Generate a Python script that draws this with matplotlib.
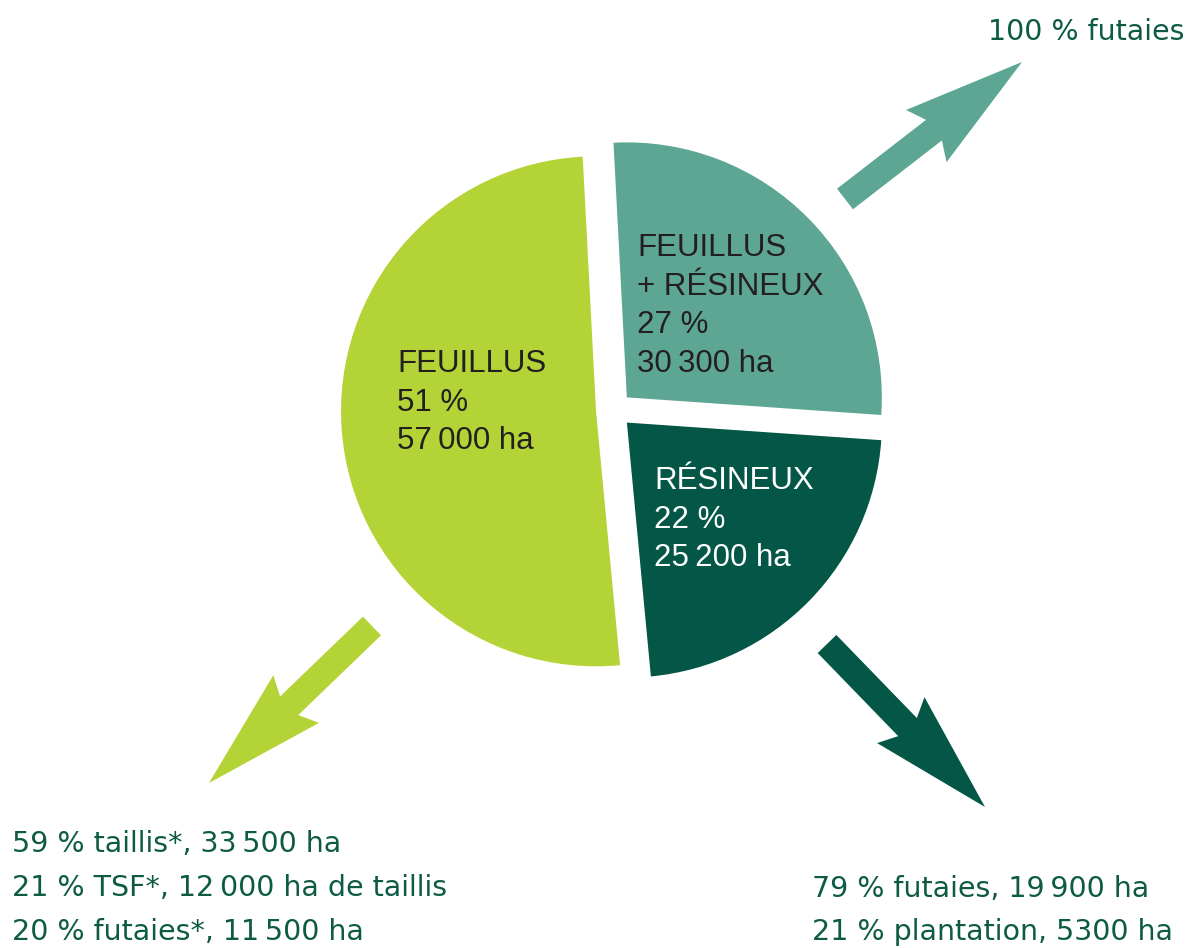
import matplotlib
matplotlib.use("Agg")
import matplotlib.pyplot as plt
from matplotlib.patches import FancyArrow

# ---------------- data ----------------
# pie order (clockwise from the top): mixed, conifers, broadleaves
slice_titles = [["FEUILLUS", "+ RÉSINEUX"], ["RÉSINEUX"], ["FEUILLUS"]]
percents = [27, 22, 51]
areas_ha = [30300, 25200, 57000]
slice_colors = ["#5ca693", "#045746", "#b4d336"]
slice_text_colors = ["#231f20", "#ffffff", "#231f20"]

mixte_detail = ["100 % futaies"]
resineux_detail = ["79 % futaies, 19\u2009900 ha", "21 % plantation, 5300 ha"]
feuillus_detail = ["59 % taillis*, 33\u2009500 ha",
                   "21 % TSF*, 12\u2009000 ha de taillis",
                   "20 % futaies*, 11\u2009500 ha"]

# ---------------- figure ----------------
W, H = 1194, 948
fig = plt.figure(figsize=(W / 100, H / 100), dpi=100)
ax = fig.add_axes([0, 0, 1, 1])


def Y(py):
    """pixel row (from top) -> data y"""
    return H - py


center = (614, Y(410))
radius = 255
gap = 18  # explode offset in data units (pixels)
ax.pie(areas_ha, colors=slice_colors, startangle=93, counterclock=False,
       explode=[gap, gap, gap], center=center, radius=radius,
       wedgeprops=dict(linewidth=0), frame=True)
ax.set_xlim(0, W)
ax.set_ylim(0, H)
ax.set_aspect("auto")
ax.axis("off")


def fmt_ha(v):
    return f"{v:,}".replace(",", "\u2009") + " ha"


label_font = ["Liberation Sans", "DejaVu Sans"]
label_fs = 22.5
line_gap = 38.5
label_pos = [(637, 256), (654, 489), (397, 372)]  # left x, first baseline (pixels)
for titles, pct, ha_v, tc, (lx, ly) in zip(slice_titles, percents, areas_ha,
                                         slice_text_colors, label_pos):
    lines = titles + [f"{pct} %", fmt_ha(ha_v)]
    for i, ln in enumerate(lines):
        ax.text(lx, Y(ly + i * line_gap), ln, family=label_font, fontsize=label_fs,
                color=tc, ha="left", va="baseline")

# ---------------- arrows ----------------
arrow_specs = [
    ((845, 199), (1022, 62), slice_colors[0]),
    ((827, 644), (985, 807), slice_colors[1]),
    ((372, 626), (209, 783), slice_colors[2]),
]
for (tx, ty), (hx, hy), col in arrow_specs:
    ax.add_patch(FancyArrow(tx, Y(ty), hx - tx, Y(hy) - Y(ty), width=26,
                            head_width=66, head_length=121, overhang=0.08,
                            length_includes_head=True, color=col, lw=0))

# ---------------- handwritten-style notes ----------------
note_color = "#0d5a45"
note_font = ["DejaVu Sans"]
note_fs = 20.5
for i, ln in enumerate(mixte_detail):
    ax.text(988, Y(40 + i * 44), ln, family=note_font, fontsize=note_fs,
            color=note_color, ha="left", va="baseline")
for i, ln in enumerate(resineux_detail):
    ax.text(812, Y(897 + i * 43), ln, family=note_font, fontsize=note_fs,
            color=note_color, ha="left", va="baseline")
for i, ln in enumerate(feuillus_detail):
    ax.text(12, Y(852 + i * 44), ln, family=note_font, fontsize=note_fs,
            color=note_color, ha="left", va="baseline")

fig.savefig("out.png", dpi=100, facecolor="white")
